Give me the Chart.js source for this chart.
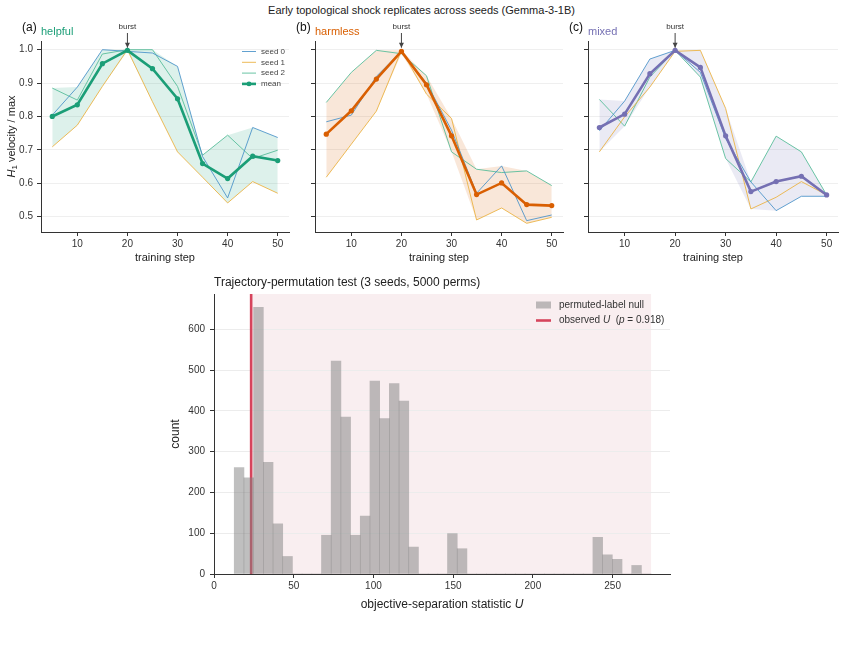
<!DOCTYPE html>
<html>
<head>
<meta charset="utf-8">
<script src="https://cdn.jsdelivr.net/npm/chart.js@4.4.1/dist/chart.umd.min.js"></script>
<style>
body{margin:0;background:#fff;width:843px;height:650px;position:relative;overflow:hidden;font-family:"Liberation Sans",Arial,sans-serif}
canvas{position:absolute}
#suptitle{position:absolute;top:4px;left:0;width:843px;text-align:center;font-size:11px;color:#222}
</style>
</head>
<body>
<div id="suptitle">Early topological shock replicates across seeds (Gemma-3-1B)</div>
<canvas id="pa" width="295" height="270" style="left:0;top:0"></canvas>
<canvas id="pb" width="290" height="270" style="left:280px;top:0"></canvas>
<canvas id="pc" width="288" height="270" style="left:555px;top:0"></canvas>
<canvas id="hist" width="540" height="345" style="left:160px;top:268px"></canvas>
<script>
const FONT = '"Liberation Sans", Arial, sans-serif';

/* top panels: H1 velocity / max per training step */
const steps = [5, 10, 15, 20, 25, 30, 35, 40, 45, 50];
const xTicks = [10, 20, 30, 40, 50];
const yTicks = [0.5, 0.6, 0.7, 0.8, 0.9, 1.0];
const burstStep = 20;

const helpfulSeed0 = [0.804, 0.888, 1.000, 0.995, 0.990, 0.950, 0.680, 0.556, 0.767, 0.737];
const helpfulSeed1 = [0.709, 0.774, 0.890, 1.000, 0.844, 0.694, 0.618, 0.541, 0.605, 0.570];
const helpfulSeed2 = [0.885, 0.849, 0.987, 1.000, 1.000, 0.890, 0.684, 0.744, 0.674, 0.699];
const helpfulMean  = [0.800, 0.835, 0.958, 0.998, 0.943, 0.853, 0.659, 0.614, 0.681, 0.668];

const harmlessSeed0 = [0.784, 0.804, 0.920, 0.995, 0.900, 0.759, 0.570, 0.652, 0.488, 0.505];
const harmlessSeed1 = [0.618, 0.717, 0.816, 0.998, 0.867, 0.794, 0.490, 0.526, 0.480, 0.498];
const harmlessSeed2 = [0.842, 0.932, 0.998, 0.988, 0.922, 0.694, 0.642, 0.632, 0.637, 0.593];
const harmlessMean  = [0.747, 0.817, 0.912, 0.995, 0.895, 0.742, 0.566, 0.601, 0.536, 0.533];

const mixedSeed0 = [0.757, 0.846, 0.972, 0.998, 0.932, 0.734, 0.604, 0.518, 0.561, 0.561];
const mixedSeed1 = [0.694, 0.799, 0.888, 0.995, 0.998, 0.824, 0.523, 0.558, 0.605, 0.565];
const mixedSeed2 = [0.851, 0.771, 0.918, 0.998, 0.918, 0.674, 0.604, 0.741, 0.694, 0.565];
const mixedMean  = [0.767, 0.807, 0.928, 0.998, 0.947, 0.742, 0.575, 0.605, 0.621, 0.565];

const seedLabels = ["seed 0", "seed 1", "seed 2"];
const seedColors = ["rgba(70,145,200,0.85)", "rgba(235,180,70,0.9)", "rgba(90,190,155,0.9)"];

/* bottom panel: permutation null histogram */
const binStart = 12.7;
const binWidth = 6.08;
const nullCounts = [261, 236, 654, 274, 123, 43, 0, 0, 0, 95, 522, 385, 95, 142, 473, 381, 467, 424, 66,
  0, 0, 0, 99, 62, 0, 0, 0, 0, 0, 0, 0, 0, 0, 0, 0, 0, 0, 90, 47, 36, 0, 21, 0];
const observedU = 23.3;
const pValue = 0.918;
const histXTicks = [0, 50, 100, 150, 200, 250];
const histYTicks = [0, 100, 200, 300, 400, 500, 600];

/* draw text pieces, some italic or subscript */
function rich(ctx, parts, x, y, size, align){
    const fontFor = p => (p.it ? "italic " : "") + (p.sub ? size * 0.72 : size) + "px " + FONT;
    let w = 0;
    parts.forEach(p => { ctx.font = fontFor(p); w += ctx.measureText(p.t).width; });
    let cx = align === "center" ? x - w / 2 : x;
    ctx.textAlign = "left";
    parts.forEach(p => {
        ctx.font = fontFor(p);
        ctx.fillText(p.t, cx, p.sub ? y + size * 0.28 : y);
        cx += ctx.measureText(p.t).width;
    });
}

const pts = arr => arr.map((v, i) => ({x: steps[i], y: v}));

/* panel labels, burst arrow, legend */
const deco = {
    id: "deco",
    afterDraw(chart, args, o){
        const {ctx, chartArea: a, scales: {x, y}} = chart;
        ctx.save();
        ctx.textBaseline = "middle";
        ctx.textAlign = "left";
        ctx.font = "12px " + FONT; ctx.fillStyle = "#111";
        ctx.fillText(o.tag, a.left - 19, 28);
        ctx.font = "11px " + FONT; ctx.fillStyle = o.color;
        ctx.fillText(o.name, a.left, 32);

        const bx = x.getPixelForValue(burstStep);
        const by = y.getPixelForValue(1.0) - 2;
        ctx.font = "8px " + FONT; ctx.fillStyle = "#333"; ctx.textAlign = "center";
        ctx.fillText("burst", bx, 27);
        ctx.strokeStyle = "#444"; ctx.lineWidth = 1;
        ctx.beginPath(); ctx.moveTo(bx, 33); ctx.lineTo(bx, by); ctx.stroke();
        ctx.fillStyle = "#444";
        ctx.beginPath(); ctx.moveTo(bx - 2.5, by - 5); ctx.lineTo(bx, by); ctx.lineTo(bx + 2.5, by - 5); ctx.closePath(); ctx.fill();

        if(o.ylabel){
            ctx.save();
            ctx.translate(12, (a.top + a.bottom) / 2);
            ctx.rotate(-Math.PI / 2);
            ctx.fillStyle = "#222";
            rich(ctx, [{t: "H", it: true}, {t: "1", sub: true}, {t: " velocity / max"}], 0, 0, 11, "center");
            ctx.restore();
        }
        if(o.legend){
            const rows = [...seedLabels, "mean"];
            const cols = [...seedColors, o.color];
            rows.forEach((r, i) => {
                const ly = 51.5 + i * 10.8;
                ctx.strokeStyle = cols[i];
                ctx.lineWidth = i === 3 ? 2.6 : 1;
                ctx.beginPath(); ctx.moveTo(242, ly); ctx.lineTo(256, ly); ctx.stroke();
                if(i === 3){
                    ctx.fillStyle = cols[i];
                    ctx.beginPath(); ctx.arc(249, ly, 2.4, 0, Math.PI * 2); ctx.fill();
                }
                ctx.fillStyle = "#444"; ctx.font = "8px " + FONT; ctx.textAlign = "left";
                ctx.fillText(r, 261, ly);
            });
        }
        ctx.restore();
    }
};

function makePanel(id, yw, padRight, seeds, mean, color, fill, tag, name, first){
    const hi = steps.map((_, i) => Math.max(...seeds.map(s => s[i])));
    const lo = steps.map((_, i) => Math.min(...seeds.map(s => s[i])));
    const datasets = [
        {label: "mean", data: pts(mean), borderColor: color, backgroundColor: color, borderWidth: 2.6,
         pointRadius: 2.6, pointBorderWidth: 0, pointHoverRadius: 2.6, order: 0}
    ];
    seeds.forEach((s, i) => datasets.push({label: seedLabels[i], data: pts(s), borderColor: seedColors[i],
        borderWidth: 1, pointRadius: 0, order: 1}));
    datasets.push({label: "hi", data: pts(hi), borderColor: "transparent", pointRadius: 0, fill: "+1", backgroundColor: fill, order: 2});
    datasets.push({label: "lo", data: pts(lo), borderColor: "transparent", pointRadius: 0, fill: false, order: 2});

    new Chart(document.getElementById(id), {
        type: "line",
        data: {datasets},
        plugins: [deco],
        options: {
            responsive: false, animation: false,
            layout: {padding: {top: 41, right: padRight, bottom: 0, left: 0}},
            elements: {line: {tension: 0}},
            plugins: {legend: {display: false}, tooltip: {enabled: false},
                deco: {tag, name, color, legend: first, ylabel: first}},
            scales: {
                x: {
                    type: "linear", min: 2.75, max: 52.25,
                    afterBuildTicks: s => { s.ticks = xTicks.map(v => ({value: v})); },
                    afterFit: s => { s.height = 38; },
                    grid: {drawOnChartArea: false, tickLength: 4, tickColor: "#333"},
                    border: {color: "#333"},
                    ticks: {font: {size: 10, family: FONT}, color: "#333", padding: 2, maxRotation: 0},
                    title: {display: true, text: "training step", font: {size: 11, family: FONT}, color: "#222",
                        padding: {top: 0, bottom: 5}}
                },
                y: {
                    min: 0.454, max: 1.026,
                    afterBuildTicks: s => { s.ticks = yTicks.map(v => ({value: v})); },
                    afterFit: s => { s.width = yw; },
                    grid: {color: "#efefef", tickLength: 4, tickColor: "#333"},
                    border: {color: "#333"},
                    ticks: {font: {size: 10, family: FONT}, color: "#333", padding: 4,
                        callback: v => first ? v.toFixed(1) : ""}
                }
            }
        }
    });
}

makePanel("pa", 41, 6, [helpfulSeed0, helpfulSeed1, helpfulSeed2], helpfulMean,
    "#1b9e77", "rgba(27,158,119,0.15)", "(a)", "helpful", true);
makePanel("pb", 35, 7, [harmlessSeed0, harmlessSeed1, harmlessSeed2], harmlessMean,
    "#d95f02", "rgba(217,95,2,0.15)", "(b)", "harmless", false);
makePanel("pc", 33, 5, [mixedSeed0, mixedSeed1, mixedSeed2], mixedMean,
    "#7570b3", "rgba(117,112,179,0.15)", "(c)", "mixed", false);

/* histogram */
const nullEnd = binStart + nullCounts.length * binWidth;
const histDeco = {
    id: "histDeco",
    beforeDraw(chart){
        const {ctx, chartArea: a, scales: {x}} = chart;
        ctx.save();
        ctx.fillStyle = "#f9eef0";
        const x0 = x.getPixelForValue(observedU), x1 = x.getPixelForValue(nullEnd);
        ctx.fillRect(x0, a.top, x1 - x0, a.bottom - a.top);
        ctx.restore();
    },
    beforeDatasetsDraw(chart){
        const {ctx, chartArea: a, scales: {x}} = chart;
        ctx.save();
        ctx.strokeStyle = "#d6445c"; ctx.lineWidth = 2.6;
        const ox = x.getPixelForValue(observedU);
        ctx.beginPath(); ctx.moveTo(ox, a.top); ctx.lineTo(ox, a.bottom); ctx.stroke();
        ctx.restore();
    },
    afterDraw(chart){
        const {ctx, chartArea: a} = chart;
        ctx.save();
        ctx.textBaseline = "middle";
        ctx.fillStyle = "#222";
        ctx.font = "12px " + FONT; ctx.textAlign = "left";
        ctx.fillText("Trajectory-permutation test (3 seeds, 5000 perms)", a.left, 15);

        rich(ctx, [{t: "objective-separation statistic "}, {t: "U", it: true}], (a.left + a.right) / 2, 337, 12, "center");

        ctx.save();
        ctx.translate(16, (a.top + a.bottom) / 2);
        ctx.rotate(-Math.PI / 2);
        rich(ctx, [{t: "count"}], 0, 0, 12, "center");
        ctx.restore();

        // legend
        ctx.fillStyle = "rgba(128,128,128,0.5)";
        ctx.fillRect(376, 33.5, 15, 7);
        ctx.strokeStyle = "#d6445c"; ctx.lineWidth = 2.6;
        ctx.beginPath(); ctx.moveTo(376, 52.5); ctx.lineTo(391, 52.5); ctx.stroke();
        ctx.fillStyle = "#333";
        rich(ctx, [{t: "permuted-label null"}], 399, 37, 10, "left");
        rich(ctx, [{t: "observed "}, {t: "U", it: true}, {t: "  ("}, {t: "p", it: true},
            {t: " = " + pValue.toFixed(3) + ")"}], 399, 52.5, 10, "left");
        ctx.restore();
    }
};

new Chart(document.getElementById("hist"), {
    type: "bar",
    data: {datasets: [{
        label: "permuted-label null",
        data: nullCounts.map((c, i) => ({x: binStart + (i + 0.5) * binWidth, y: c})),
        backgroundColor: "rgba(128,128,128,0.5)",
        borderWidth: 0, barPercentage: 1, categoryPercentage: 1
    }]},
    plugins: [histDeco],
    options: {
        responsive: false, animation: false,
        layout: {padding: {top: 26, right: 30, bottom: 0, left: 0}},
        plugins: {legend: {display: false}, tooltip: {enabled: false}},
        scales: {
            x: {
                type: "linear", offset: false, min: 0, max: 286,
                afterBuildTicks: s => { s.ticks = histXTicks.map(v => ({value: v})); },
                afterFit: s => { s.height = 39; },
                grid: {drawOnChartArea: false, offset: false, tickLength: 4, tickColor: "#333"},
                border: {color: "#333"},
                ticks: {font: {size: 10, family: FONT}, color: "#333", padding: 2, maxRotation: 0}
            },
            y: {
                min: 0, max: 686.7,
                afterBuildTicks: s => { s.ticks = histYTicks.map(v => ({value: v})); },
                afterFit: s => { s.width = 54; },
                grid: {color: "#ececec", tickLength: 4, tickColor: "#333"},
                border: {color: "#333"},
                ticks: {font: {size: 10, family: FONT}, color: "#333", padding: 5}
            }
        }
    }
});
</script>
</body>
</html>
